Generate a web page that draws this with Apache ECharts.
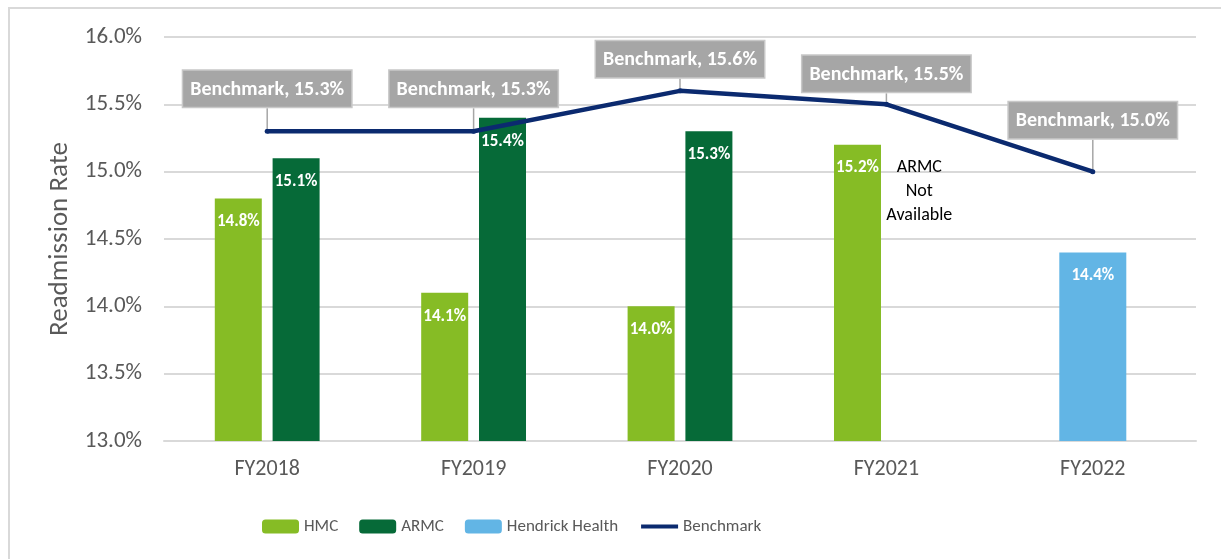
<!DOCTYPE html>
<html lang="en">
  <head>
    <meta charset="UTF-8">
    <title>Readmission Rate</title>
    <style>
      html, body { margin: 0; padding: 0; background: #fff; }
      #chart { width: 1221px; height: 559px; }
    </style>
  </head>
  <body>
    <div id="chart"></div>
  </body>
  <script src="https://cdn.jsdelivr.net/npm/echarts@6/dist/echarts.min.js"></script>
  <script>
    // 数据
    const years = ['FY2018', 'FY2019', 'FY2020', 'FY2021', 'FY2022']
    const hmc = [14.8, 14.1, 14.0, 15.2, null]
    const armc = [15.1, 15.4, 15.3, null, null]
    const hendrick = [null, null, null, null, 14.4]
    const benchmark = [15.3, 15.3, 15.6, 15.5, 15.0]
    const naYear = 'FY2021'
    const naValue = 14.85

    // 标签上移距离
    const labelLift = [17, 17, 6, 5, 26]

    const font = 'Carlito, Calibri, Lato, sans-serif'
    const pct = v => v.toFixed(1) + '%'

    const barLabel = {
      show: true,
      position: 'insideTop',
      distance: 15,
      color: '#fff',
      fontWeight: 'bold',
      fontSize: 17,
      fontFamily: font,
      formatter: p => pct(p.value)
    }

    const chart = echarts.init(document.getElementById('chart'))
    chart.setOption({
      animation: false,
      graphic: [{
        type: 'rect',
        shape: { x: 9, y: 8, width: 1400, height: 800 },
        style: { fill: 'none', stroke: '#d9d9d9', lineWidth: 2 },
        silent: true
      }],
      textStyle: { fontFamily: font },
      grid: { left: 164, right: 25, top: 37, bottom: 118 },
      legend: {
        left: 257,
        top: 513,
        itemWidth: 37,
        itemHeight: 14,
        itemGap: 21,
        textStyle: { color: '#595959', fontSize: 17, fontFamily: font },
        data: ['HMC', 'ARMC', 'Hendrick Health', {
          name: 'Benchmark',
          itemStyle: { opacity: 0 },
          lineStyle: { width: 4 }
        }]
      },
      xAxis: [{
        type: 'category',
        data: years,
        axisLine: { lineStyle: { color: '#d9d9d9', width: 2 } },
        axisTick: { show: false },
        axisLabel: { color: '#595959', fontSize: 22, margin: 17, fontFamily: font }
      }, {
        type: 'category',
        data: years,
        show: false
      }],
      yAxis: {
        type: 'value',
        min: 13,
        max: 16,
        interval: 0.5,
        name: 'Readmission Rate',
        nameLocation: 'middle',
        nameGap: 90,
        nameTextStyle: { color: '#595959', fontSize: 27, fontFamily: font },
        axisLine: { show: false },
        axisTick: { show: false },
        axisLabel: { color: '#595959', fontSize: 23, margin: 22, fontFamily: font, formatter: v => pct(v) },
        splitLine: { lineStyle: { color: '#d9d9d9', width: 2 } }
      },
      series: [{
        name: 'HMC',
        type: 'bar',
        data: hmc,
        barWidth: 47,
        barGap: '23%',
        itemStyle: { color: '#86bc25' },
        label: barLabel
      }, {
        name: 'ARMC',
        type: 'bar',
        data: armc,
        barWidth: 47,
        itemStyle: { color: '#066a38' },
        label: barLabel,
        markPoint: {
          symbol: 'circle',
          symbolSize: 0,
          silent: true,
          data: [{ coord: [naYear, naValue] }],
          label: {
            show: true,
            position: 'inside',
            offset: [4, 0],
            formatter: 'ARMC\nNot\nAvailable',
            color: '#000',
            fontSize: 18,
            lineHeight: 24,
            align: 'center',
            fontFamily: font
          }
        }
      }, {
        name: 'Hendrick Health',
        type: 'bar',
        xAxisIndex: 1,
        data: hendrick,
        barWidth: 67,
        itemStyle: { color: '#62b5e5' },
        label: barLabel
      }, {
        name: 'Benchmark',
        type: 'line',
        data: benchmark,
        symbol: 'circle',
        symbolSize: 5,
        z: 5,
        lineStyle: { color: '#0b2a6f', width: 4.5 },
        itemStyle: { color: '#0b2a6f' },
        label: {
          show: true,
          position: 'top',
          distance: 5,
          formatter: p => 'Benchmark, ' + pct(p.value),
          color: '#fff',
          fontWeight: 'bold',
          fontSize: 20,
          fontFamily: font,
          backgroundColor: '#a6a6a6',
          borderColor: '#c8c8c8',
          borderWidth: 1.5,
          padding: [9, 7, 7, 7]
        },
        labelLine: { show: true, lineStyle: { color: '#a6a6a6', width: 1.5 } },
        labelLayout: p => ({ dy: -labelLift[p.dataIndex] })
      }]
    })
  </script>
</html>
